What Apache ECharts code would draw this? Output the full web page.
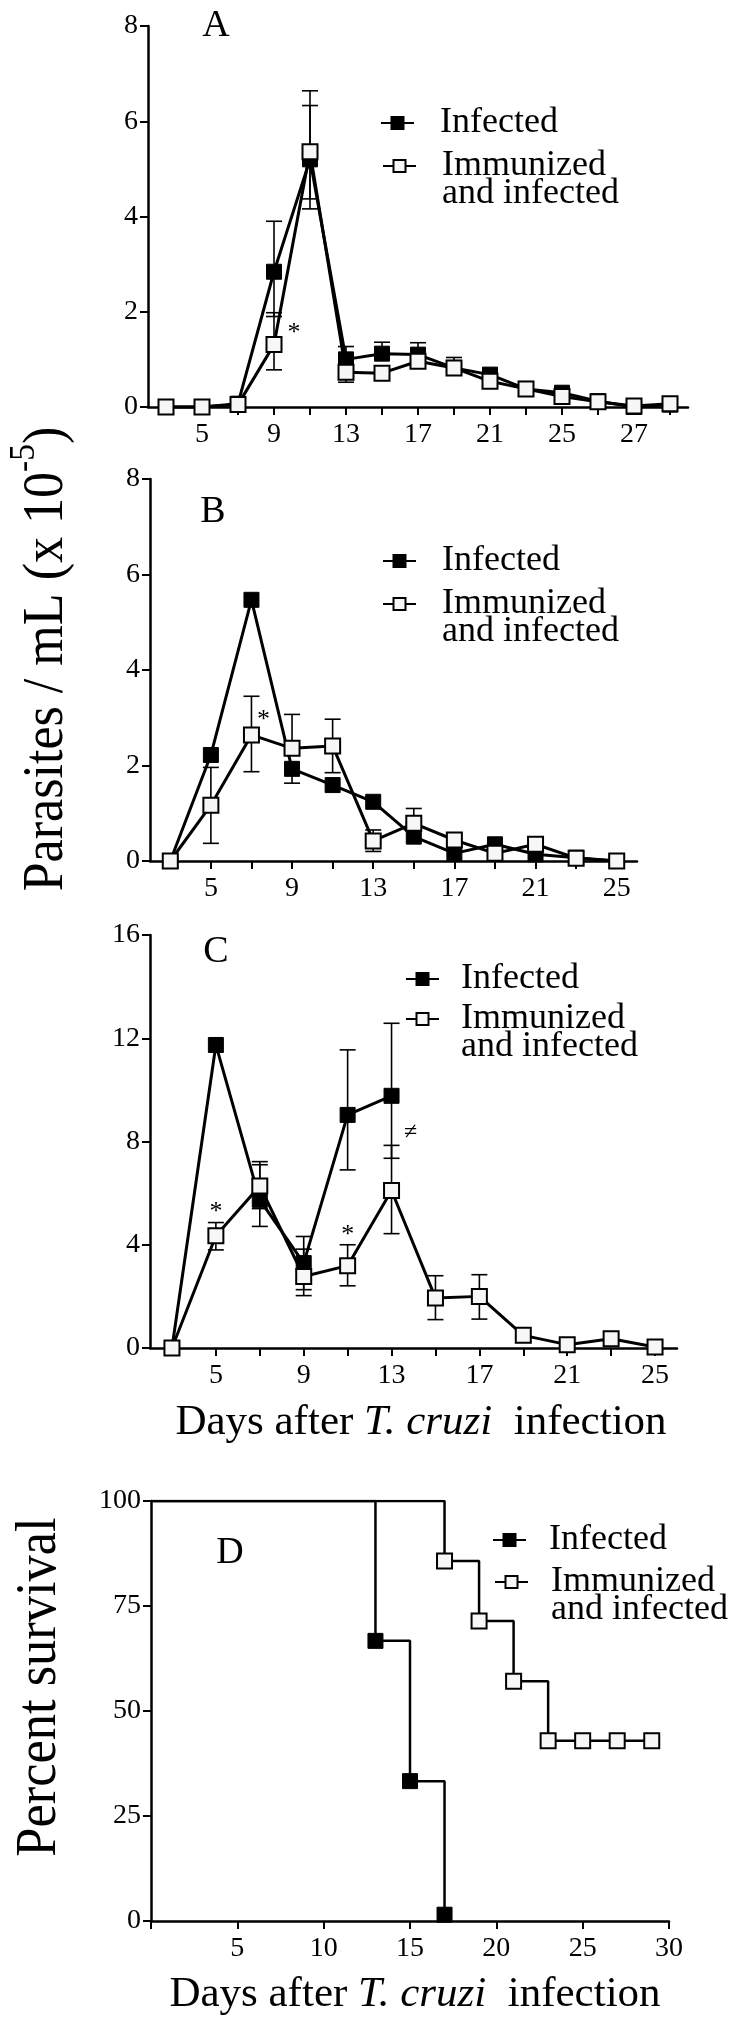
<!DOCTYPE html>
<html><head><meta charset="utf-8">
<script src="https://cdn.jsdelivr.net/npm/echarts@6/dist/echarts.min.js"></script>
<style>html,body{margin:0;padding:0;background:#fff}#c{width:736px;height:2022px}</style>
</head><body><div id="c"></div>
<script>
// ---------- DATA ----------
// Panel A
const daysA = ['3','5','7','9','11','13','15','17','19','21','23','25','27','29','31'];
const tickLabelsA = ['', '5', '', '9', '', '13', '', '17', '', '21', '', '25', '', '27', ''];
const infA = [0, 0, 0.07, 2.84, 5.2, 1.0, 1.12, 1.1, 0.82, 0.68, 0.38, 0.3, 0.12, 0.0, 0.05];
const immA = [0, 0, 0.05, 1.31, 5.36, 0.73, 0.71, 0.96, 0.82, 0.54, 0.38, 0.22, 0.11, 0.02, 0.07];
const infA_lo = [null, null, null, 1.9, 4.37, 1.0, 1.12, 1.1, 0.82, null, null, null, null, null, null];
const infA_hi = [null, null, null, 3.9, 6.33, 1.27, 1.36, 1.35, 1.04, null, null, null, null, null, null];
const immA_lo = [null, null, null, 0.78, 4.16, 0.52, null, 0.82, null, null, null, null, null, null, null];
const immA_hi = [null, null, null, 1.98, 6.64, 0.73, null, 0.96, null, null, null, null, null, null, null];
// Panel B
const daysB = ['3','5','7','9','11','13','15','17','19','21','23','25'];
const tickLabelsB = ['', '5', '', '9', '', '13', '', '17', '', '21', '', '25'];
const infB = [0, 2.22, 5.47, 1.93, 1.59, 1.24, 0.51, 0.16, 0.35, 0.14, 0.07, 0];
const immB = [0, 1.17, 2.64, 2.36, 2.41, 0.42, 0.79, 0.44, 0.16, 0.35, 0.06, 0];
const infB_lo = [null, null, null, 1.63, null, null, null, null, null, null, null, null];
const infB_hi = [null, null, null, 1.93, null, null, null, null, null, null, null, null];
const immB_lo = [null, 0.37, 1.87, 2.36, 1.85, 0.2, 0.79, null, null, null, null, null];
const immB_hi = [null, 1.96, 3.45, 3.07, 2.97, 0.65, 1.1, null, null, null, null, null];
// Panel C
const daysC = ['3','5','7','9','11','13','15','17','19','21','23','25'];
const tickLabelsC = ['', '5', '', '9', '', '13', '', '17', '', '21', '', '25'];
const infC = [0, 11.74, 5.74, 3.29, 9.03, 9.77, null, null, null, null, null, null];
const immC = [0, 4.35, 6.28, 2.77, 3.19, 6.1, 1.94, 2.0, 0.49, 0.13, 0.36, 0.04];
const infC_lo = [null, null, 4.71, 2.26, 6.9, 7.35, null, null, null, null, null, null];
const infC_hi = [null, null, 7.1, 4.32, 11.55, 12.58, null, null, null, null, null, null];
const immC_lo = [null, 3.8, 5.4, 2.03, 2.41, 4.43, 1.1, 1.12, null, null, null, null];
const immC_hi = [null, 4.86, 7.22, 3.83, 4.0, 7.85, 2.8, 2.84, null, null, null, null];
// Panel D (survival)
const survInfDays = [0, 13, 15, 17];
const survInf = [100, 66.7, 33.3, 1.5];
const survImmDays = [0, 17, 19, 21, 23, 25, 27, 29];
const survImm = [100, 85.7, 71.4, 57.1, 42.9, 42.9, 42.9, 42.9];
// Significance marks
const marksA = [{day: '9', y: 1.55, text: '*', dx: 20}];
const marksB = [{day: '7', y: 2.95, text: '*', dx: 12}];
const marksC = [{day: '5', y: 5.27, text: '*', dx: 0}, {day: '11', y: 4.38, text: '*', dx: 0}, {day: '13', y: 8.33, text: '\u2260', dx: 19}];

// ---------- STYLE ----------
const FONT = '"Liberation Serif", serif';
const chart = echarts.init(document.getElementById('c'), null, {renderer: 'canvas'});

const grids = [
  {left: 148, top: 26, width: 540, height: 381},
  {left: 150, top: 479, width: 487, height: 382},
  {left: 150, top: 935, width: 527, height: 413},
  {left: 151, top: 1501, width: 518, height: 420}
];

const axisLine = {show: true, lineStyle: {color: '#000', width: 2.5}};
function catX(gi, cats, labels) {
  return {
    type: 'category', gridIndex: gi, data: cats, boundaryGap: true,
    axisLine: axisLine,
    axisTick: {show: true, alignWithLabel: true, interval: 0, length: 8, lineStyle: {color: '#000', width: 2}},
    axisLabel: {interval: 0, margin: 14, color: '#000', fontFamily: FONT, fontSize: 28,
      formatter: (v, i) => labels[i]},
    splitLine: {show: false}
  };
}
function valY(gi, max, interval) {
  return {
    type: 'value', gridIndex: gi, min: 0, max: max, interval: interval,
    axisLine: axisLine,
    axisTick: {show: true, length: 8, lineStyle: {color: '#000', width: 2}},
    axisLabel: {margin: 10, color: '#000', fontFamily: FONT, fontSize: 28},
    splitLine: {show: false}
  };
}

function errData(lo, hi) {
  const out = [];
  lo.forEach((l, i) => { if (l !== null && hi[i] !== null) out.push([i, l, hi[i]]); });
  return out;
}
function errRender(params, api) {
  const x = api.value(0), lo = api.value(1), hi = api.value(2);
  const pLo = api.coord([x, lo]), pHi = api.coord([x, hi]);
  const w = 8;
  const style = {stroke: '#000', lineWidth: 1.6, fill: null};
  return {type: 'group', children: [
    {type: 'line', shape: {x1: pHi[0], y1: pHi[1], x2: pLo[0], y2: pLo[1]}, style: style},
    {type: 'line', shape: {x1: pHi[0] - w, y1: pHi[1], x2: pHi[0] + w, y2: pHi[1]}, style: style},
    {type: 'line', shape: {x1: pLo[0] - w, y1: pLo[1], x2: pLo[0] + w, y2: pLo[1]}, style: style}
  ]};
}
function errSeries(gi, lo, hi) {
  return {type: 'custom', xAxisIndex: gi, yAxisIndex: gi, renderItem: errRender,
    data: errData(lo, hi), z: 1, silent: true, encode: {x: 0, y: [1, 2]}};
}
const infStyle = {color: '#000', borderColor: '#000', borderWidth: 1};
const immStyle = {color: '#f7f7f7', borderColor: '#000', borderWidth: 2};
function markPts(marks) {
  return {
    symbol: 'rect', symbolSize: 1, itemStyle: {color: 'rgba(0,0,0,0)'},
    silent: true,
    data: marks.map(m => ({coord: [m.day, m.y],
      label: {show: true, position: 'inside', formatter: m.text, offset: [m.dx, 0],
        color: '#000', fontFamily: FONT, fontSize: m.text === '*' ? 26 : 24}}))
  };
}
function lineSeries(gi, name, data, style, marks) {
  const s = {
    type: 'line', name: name, xAxisIndex: gi, yAxisIndex: gi, data: data,
    symbol: 'rect', symbolSize: 15, showAllSymbol: true, connectNulls: false,
    lineStyle: {color: '#000', width: 3}, itemStyle: style, z: 3,
    emphasis: {disabled: true}
  };
  if (marks) s.markPoint = markPts(marks);
  return s;
}

const legendText = {fontFamily: FONT, fontSize: 36, lineHeight: 28, color: '#000'};
function legendPair(pos) {
  const common = {orient: 'vertical', itemWidth: 33, itemHeight: 15, selectedMode: false,
    lineStyle: {width: 2}, padding: 0,
    formatter: name => name === 'Immunized and infected' ? '\nImmunized\nand infected' : name};
  return [
    Object.assign({}, common, {data: ['Infected'], left: pos.l1, top: pos.c1 - 14,
      textStyle: Object.assign({}, legendText, {padding: [0, 0, 0, pos.pad]})}),
    Object.assign({}, common, {data: ['Immunized and infected'], left: pos.l2, top: pos.c2 - 42,
      textStyle: Object.assign({}, legendText, {padding: [0, 0, 0, pos.pad]})})
  ];
}

const stepData = (days, vals) => days.map((d, i) => i === 0 ? {value: [d, vals[i]], symbol: 'none'} : [d, vals[i]]);

const option = {
  animation: false,
  backgroundColor: '#fff',
  textStyle: {fontFamily: FONT},
  grid: grids,
  xAxis: [
    catX(0, daysA, tickLabelsA),
    catX(1, daysB, tickLabelsB),
    catX(2, daysC, tickLabelsC),
    {type: 'value', gridIndex: 3, min: 0, max: 30, interval: 5,
      axisLine: axisLine,
      axisTick: {show: true, length: 8, lineStyle: {color: '#000', width: 2}},
      axisLabel: {margin: 14, color: '#000', fontFamily: FONT, fontSize: 28,
        formatter: v => v === 0 ? '' : String(v)},
      splitLine: {show: false}}
  ],
  yAxis: [valY(0, 8, 2), valY(1, 8, 2), valY(2, 16, 4), valY(3, 100, 25)],
  legend: [].concat(
    legendPair({l1: 380, c1: 119, l2: 382, c2: 162, pad: 21}),
    legendPair({l1: 382, c1: 557, l2: 382, c2: 600, pad: 21}),
    legendPair({l1: 405, c1: 975, l2: 405, c2: 1015, pad: 17}),
    legendPair({l1: 492, c1: 1536, l2: 494, c2: 1578, pad: 18})
  ),
  series: [
    errSeries(0, infA_lo, infA_hi), errSeries(0, immA_lo, immA_hi),
    lineSeries(0, 'Infected', infA, infStyle),
    lineSeries(0, 'Immunized and infected', immA, immStyle, marksA),
    errSeries(1, infB_lo, infB_hi), errSeries(1, immB_lo, immB_hi),
    lineSeries(1, 'Infected', infB, infStyle),
    lineSeries(1, 'Immunized and infected', immB, immStyle, marksB),
    errSeries(2, infC_lo, infC_hi), errSeries(2, immC_lo, immC_hi),
    lineSeries(2, 'Infected', infC, infStyle),
    lineSeries(2, 'Immunized and infected', immC, immStyle, marksC),
    {type: 'line', name: 'Infected', xAxisIndex: 3, yAxisIndex: 3, step: 'end',
      data: stepData(survInfDays, survInf), symbol: 'rect', symbolSize: 15,
      lineStyle: {color: '#000', width: 2.5}, itemStyle: infStyle, z: 3, emphasis: {disabled: true}},
    {type: 'line', name: 'Immunized and infected', xAxisIndex: 3, yAxisIndex: 3, step: 'end',
      data: stepData(survImmDays, survImm), symbol: 'rect', symbolSize: 15,
      lineStyle: {color: '#000', width: 2.5}, itemStyle: immStyle, z: 3, emphasis: {disabled: true}}
  ],
  graphic: [
    {type: 'text', x: 216, y: 26, style: {text: 'A', fontFamily: FONT, fontSize: 38, fill: '#000', align: 'center', verticalAlign: 'middle'}},
    {type: 'text', x: 213, y: 512, style: {text: 'B', fontFamily: FONT, fontSize: 38, fill: '#000', align: 'center', verticalAlign: 'middle'}},
    {type: 'text', x: 216, y: 952, style: {text: 'C', fontFamily: FONT, fontSize: 38, fill: '#000', align: 'center', verticalAlign: 'middle'}},
    {type: 'text', x: 230, y: 1553, style: {text: 'D', fontFamily: FONT, fontSize: 38, fill: '#000', align: 'center', verticalAlign: 'middle'}},
    {type: 'text', x: 41, y: 659, rotation: Math.PI / 2, scaleX: 0.93,
      style: {text: '{n|Parasites / mL (x 10}{s|-5}{n|)}', align: 'center', verticalAlign: 'middle', fill: '#000',
        rich: {n: {fontFamily: FONT, fontSize: 56, lineHeight: 68, verticalAlign: 'bottom'},
               s: {fontFamily: FONT, fontSize: 36, lineHeight: 68, verticalAlign: 'top'}}}},
    {type: 'text', x: 40, y: 1687, rotation: Math.PI / 2, scaleX: 0.92,
      style: {text: 'Percent survival', fontFamily: FONT, fontSize: 57, fill: '#000', align: 'center', verticalAlign: 'middle'}},
    {type: 'text', x: 421, y: 1423,
      style: {text: '{n|Days after }{i|T. cruzi}{n|  infection}', align: 'center', verticalAlign: 'middle', fill: '#000',
        rich: {n: {fontFamily: FONT, fontSize: 43}, i: {fontFamily: FONT, fontSize: 43, fontStyle: 'italic'}}}},
    {type: 'text', x: 415, y: 1995,
      style: {text: '{n|Days after }{i|T. cruzi}{n|  infection}', align: 'center', verticalAlign: 'middle', fill: '#000',
        rich: {n: {fontFamily: FONT, fontSize: 43}, i: {fontFamily: FONT, fontSize: 43, fontStyle: 'italic'}}}}
  ]
};
chart.setOption(option);
</script>
</body></html>
